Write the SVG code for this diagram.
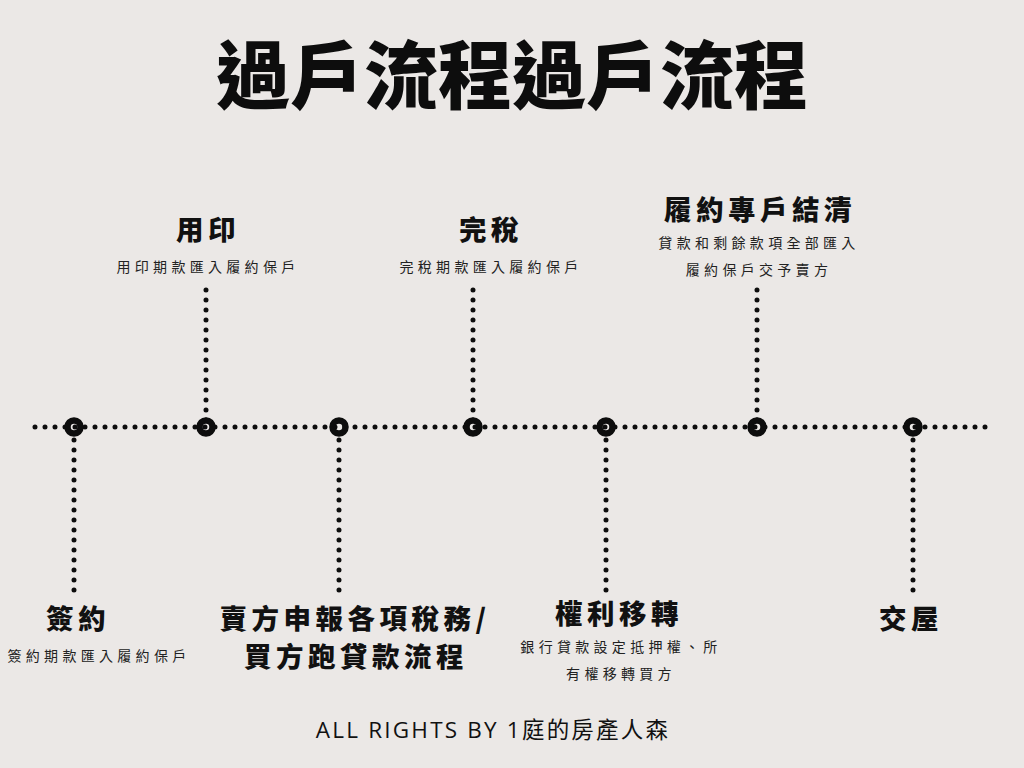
<svg xmlns="http://www.w3.org/2000/svg" width="1024" height="768" viewBox="0 0 1024 768">
<style>
.bg{fill:#ebe8e6}
.dot{stroke:#0d0d0d;stroke-width:5;stroke-linecap:round;stroke-dasharray:0 10;fill:none}
.node{fill:none;stroke:#0d0d0d;stroke-width:6.5}
.title{font-family:"Noto Sans CJK TC","Noto Sans CJK SC",sans-serif;font-weight:900;font-size:74px;fill:#0d0d0d;text-anchor:middle}
.h{font-family:"Noto Sans CJK TC","Noto Sans CJK SC",sans-serif;font-weight:900;font-size:27.5px;fill:#111;text-anchor:middle;letter-spacing:4.5px}
.s{font-family:"Noto Sans CJK TC","Noto Sans CJK SC",sans-serif;font-weight:400;font-size:14px;fill:#222;text-anchor:middle;letter-spacing:4.3px}
.f{font-family:"Open Sans","Noto Sans CJK TC",sans-serif;font-size:22.5px;fill:#111;text-anchor:middle;letter-spacing:2.2px}
</style>
<rect class="bg" x="0" y="0" width="1024" height="768"/>
<text class="title" x="512" y="103">過戶流程過戶流程</text>
<g id="connectors">
<line class="dot" x1="35" y1="427" x2="991" y2="427"/>
<line class="dot" x1="206" y1="290" x2="206" y2="421"/>
<line class="dot" x1="473" y1="290" x2="473" y2="421"/>
<line class="dot" x1="757" y1="290" x2="757" y2="421"/>
<line class="dot" x1="74" y1="440" x2="74" y2="592"/>
<line class="dot" x1="339" y1="440" x2="339" y2="592"/>
<line class="dot" x1="606" y1="440" x2="606" y2="592"/>
<line class="dot" x1="913" y1="440" x2="913" y2="592"/>
</g>
<g id="n1">
<circle class="node" cx="74" cy="427" r="6.5"/>
<text class="h" x="78" y="629">簽約</text>
<text class="s" x="99" y="661">簽約期款匯入履約保戶</text>
</g>
<g id="n2">
<circle class="node" cx="206" cy="427" r="6.5"/>
<text class="h" x="208" y="240">用印</text>
<text class="s" x="208" y="272">用印期款匯入履約保戶</text>
</g>
<g id="n3">
<circle class="node" cx="339" cy="427" r="6.5"/>
<text class="h" x="355" y="629">賣方申報各項稅務/</text>
<text class="h" x="356" y="667">買方跑貸款流程</text>
</g>
<g id="n4">
<circle class="node" cx="473" cy="427" r="6.5"/>
<text class="h" x="491" y="240">完稅</text>
<text class="s" x="491" y="272">完稅期款匯入履約保戶</text>
</g>
<g id="n5">
<circle class="node" cx="606" cy="427" r="6.5"/>
<text class="h" x="619" y="624">權利移轉</text>
<text class="s" x="621" y="652">銀行貸款設定抵押權、所</text>
<text class="s" x="621" y="679">有權移轉買方</text>
</g>
<g id="n6">
<circle class="node" cx="757" cy="427" r="6.5"/>
<text class="h" x="760" y="220">履約專戶結清</text>
<text class="s" x="759" y="248">貸款和剩餘款項全部匯入</text>
<text class="s" x="759" y="275">履約保戶交予賣方</text>
</g>
<g id="n7">
<circle class="node" cx="913" cy="427" r="6.5"/>
<text class="h" x="911" y="629">交屋</text>
</g>
<text class="f" x="493" y="738">ALL RIGHTS BY 1庭的房產人森</text>
</svg>
